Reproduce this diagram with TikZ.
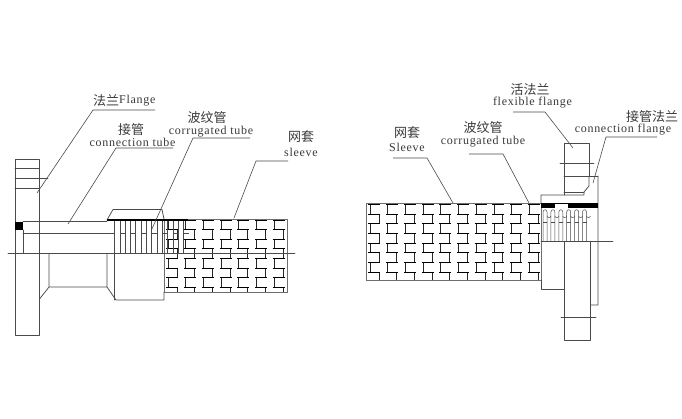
\documentclass[tikz,border=0pt]{standalone}
\usepackage{fontspec}
\setmainfont{Liberation Serif}[LetterSpace=6]
\newfontfamily\cjk{Noto Sans CJK SC}
\definecolor{ink}{HTML}{4A4A4A}
\definecolor{txt}{HTML}{3A3A3A}
\newcommand{\sleevepat}[4]{% x0 y0 x1 y1
  \begin{scope}
  \clip (#1,#2) rectangle (#3,#4);
  \foreach \j in {0,...,8}{
    \pgfmathsetmacro{\yy}{#2+1+9.65*\j}
    \pgfmathsetmacro{\sh}{mod(\j,2)*8.85}
    \foreach \i in {-1,...,10}{
      \pgfmathsetmacro{\xx}{#1+4+\i*17.7}
      \draw[weave] (\xx+\sh,\yy) -- (\xx+\sh,\yy+9.65);
      \draw[tick] (\xx-1.6,\yy) -- (\xx+10.4,\yy);
    }
  }
  \end{scope}
  \draw[ink!80,line width=0.9pt] (#1,#2) rectangle (#3,#4);
}
\tikzset{
  x=1pt,y=-1pt,
  part/.style={draw=ink,line width=0.75pt,line cap=round,line join=round},
  fine/.style={draw=ink,line width=0.5pt},
  lead/.style={draw=ink,line width=0.6pt},
  weave/.style={draw=black!85,line width=0.7pt},
  tick/.style={draw=black,line width=1pt},
  cn/.style={text=txt,font=\cjk\fontsize{13}{13}\selectfont,inner sep=0pt},
  en/.style={text=txt,font=\fontsize{12}{12}\selectfont,inner sep=0pt},
}
\begin{document}
\begin{tikzpicture}
\useasboundingbox (0,0) rectangle (682,418);
\fill[white] (0,0) rectangle (682,418);

% ---- left assembly
\sleevepat{164}{219}{287}{292}
\draw[part] (15,159) rectangle (39.5,335);
\draw[part] (15,168) -- (39.5,168) (15,178) -- (48,178) (15,188) -- (39.5,188);
\fill[black] (15,222) rectangle (23,230);
\draw[part] (23,221.5) -- (107,221.5) (23,233) -- (114,233);
\draw[part] (23.5,230) -- (23.5,253.5);
\draw[part] (8,253.5) -- (295,253.5);
\draw[part] (39.5,299) -- (49,287) -- (49,253.5) (49,287) -- (107,287) -- (107,253.5) (107,287) -- (116,300) -- (164,300) -- (164,292);
\draw[part] (107,220) -- (113,209.5) -- (162,209.5) -- (164,219);
\draw[part] (114.5,221) -- (114.5,300);
\foreach \k in {1,...,13}{\draw[fine] ({114.5+5.3*\k},221) -- ({114.5+5.3*\k},253.5);}
\foreach \k in {1,3,...,13}{\draw[fine] ({114.5+5.3*\k},233) -- ({119.8+5.3*\k},233);}
\draw[black,line width=2.2pt] (107,219.8) -- (188,219.8);

% ---- right assembly
\sleevepat{366}{203.5}{541}{280}
\draw[part] (564,195) -- (564,143) -- (589,143) -- (589,176);
\draw[part] (560,163) -- (594,163) (564,176) -- (598,176) (564,192) -- (584,192);
\draw[part] (541,203) -- (541,195) -- (584,195) -- (584,192) -- (589,186) -- (589,176) (598,176) -- (598,305) -- (590.5,305);
\draw[part] (541,280) -- (541,289) -- (564,289);
\draw[part] (564,241.5) rectangle (590.5,340);
\draw[part] (561,317) -- (596,317);
\draw[part] (541,241.5) -- (613,241.5);
\fill[black] (541,203) rectangle (598,208);
\fill[white] (554.5,204) rectangle (568,207.5);
\foreach \k in {0,...,5}{
  \pgfmathsetmacro{\xa}{543+7.9*\k}
  \draw[fine] (\xa,241.5) -- (\xa,212) .. controls (\xa,209) and (\xa+4,209) .. (\xa+4,212) -- (\xa+4,241.5);
  \draw[fine] (\xa+4,216) .. controls (\xa+4,218) and (\xa+7.9,218) .. (\xa+7.9,216);
  \draw[fine] (\xa,222) -- (\xa+4,222);
}

% ---- labels
\node[cn,anchor=west] (fl) at (93,101) {法兰};
\node[en,anchor=west] (fle) at (119,101) {Flange};
\node[cn] (jg) at (131,130) {接管};
\node[en] (ct) at (132.5,142) {connection tube};
\node[cn] (bw) at (207,118) {波纹管};
\node[en] (cr) at (211,132) {corrugated tube};
\node[cn] (wt) at (301,137) {网套};
\node[en] (sl) at (301,152) {sleeve};
\node[cn] (wt2) at (407,133) {网套};
\node[en] (sl2) at (407,147) {Sleeve};
\node[cn] (bw2) at (483,128) {波纹管};
\node[en] (cr2) at (483,142) {corrugated tube};
\node[cn] (hf) at (530,90) {活法兰};
\node[en] (ff) at (532.5,103) {flexible flange};
\node[cn] (jf) at (652,117) {接管法兰};
\node[en] (cf) at (623,130) {connection flange};

% ---- leaders
\coordinate (a1) at (155,110); \coordinate (a2) at (93,110); \coordinate (a3) at (37,193);
\coordinate (b1) at (173,148); \coordinate (b2) at (116,148); \coordinate (b3) at (68,224);
\coordinate (c1) at (250,138); \coordinate (c2) at (193,138); \coordinate (c3) at (151,231);
\coordinate (d1) at (288,161); \coordinate (d2) at (256,161); \coordinate (d3) at (234,218);
\coordinate (e1) at (393,158); \coordinate (e2) at (427,158); \coordinate (e3) at (453,203);
\coordinate (f1) at (469,154); \coordinate (f2) at (503,154); \coordinate (f3) at (529,203);
\coordinate (g1) at (513,112); \coordinate (g2) at (545,112); \coordinate (g3) at (573,148);
\coordinate (h1) at (657,137); \coordinate (h2) at (606,137); \coordinate (h3) at (593,183);
\draw[lead] (a1) -- (a2) -- (a3);
\draw[lead] (b1) -- (b2) -- (b3);
\draw[lead] (c1) -- (c2) -- (c3);
\draw[lead] (d1) -- (d2) -- (d3);
\draw[lead] (e1) -- (e2) -- (e3);
\draw[lead] (f1) -- (f2) -- (f3);
\draw[lead] (g1) -- (g2) -- (g3);
\draw[lead] (h1) -- (h2) -- (h3);
\end{tikzpicture}
\end{document}
